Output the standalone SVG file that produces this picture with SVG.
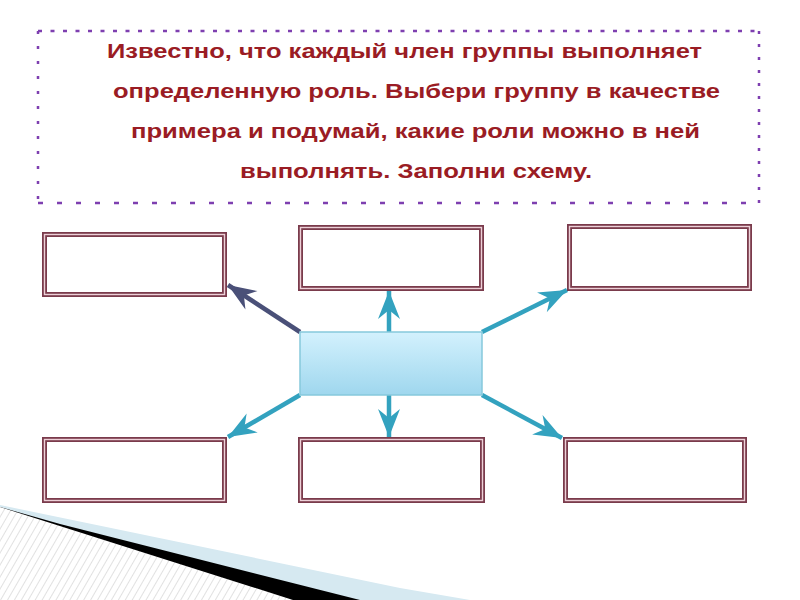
<svg xmlns="http://www.w3.org/2000/svg" width="800" height="600" viewBox="0 0 800 600">
<defs>
<style>
.t{font-family:"Liberation Sans",Arial,sans-serif;font-weight:bold;font-size:21px;fill:#9a1c24}
.box{fill:#fff;stroke:#7a3b4c;stroke-width:5}
.boxin{fill:none;stroke:#edd0d8;stroke-width:1.4}
.arr{stroke:#33a2bf;stroke-width:4.5;fill:none}
.arrd{stroke:#4a5078;stroke-width:4.5;fill:none}
.dash{stroke:#7e3fb0;stroke-width:2.5;fill:none}
</style>
<linearGradient id="cg" x1="0" y1="0" x2="0" y2="1">
<stop offset="0" stop-color="#d3f1fd"/>
<stop offset="1" stop-color="#9fd7ee"/>
</linearGradient>
<marker id="ha" viewBox="-29 -12 30 24" markerWidth="30" markerHeight="24" refX="0" refY="0" orient="auto" markerUnits="userSpaceOnUse">
<path d="M0,0 L-28,-11 L-19,0 L-28,11 Z" fill="#33a2bf"/>
</marker>
<marker id="hd" viewBox="-29 -12 30 24" markerWidth="30" markerHeight="24" refX="0" refY="0" orient="auto" markerUnits="userSpaceOnUse">
<path d="M0,0 L-28,-11 L-19,0 L-28,11 Z" fill="#4a5078"/>
</marker>
<pattern id="hatch" width="6" height="6" patternUnits="userSpaceOnUse" patternTransform="rotate(30)">
<rect width="6" height="6" fill="#fff"/>
<line x1="0" y1="0" x2="0" y2="6" stroke="#d8d8d8" stroke-width="1.5"/>
</pattern>
</defs>
<rect width="800" height="600" fill="#fff"/>

<g id="decor">
<path d="M0,505 L400,588 L470,600 L0,600 Z" fill="#d6e9f1"/>
<path d="M0,507 L60,524 L360,600 L0,600 Z" fill="#000"/>
<path d="M0,507 L293,600 L0,600 Z" fill="url(#hatch)"/>
</g>

<g id="frame">
<line class="dash" x1="38" y1="31" x2="760" y2="31" stroke-dasharray="4 8.5"/>
<line class="dash" x1="38" y1="203" x2="760" y2="203" stroke-dasharray="5 14"/>
<line class="dash" x1="38" y1="31" x2="38" y2="203" stroke-dasharray="3 12"/>
<line class="dash" x1="759" y1="31" x2="759" y2="203" stroke-dasharray="3 10"/>
</g>

<g id="task">
<text class="t" x="107" y="58" textLength="595" lengthAdjust="spacingAndGlyphs">Известно, что каждый член группы выполняет</text>
<text class="t" x="113" y="98" textLength="607" lengthAdjust="spacingAndGlyphs">определенную роль. Выбери группу в качестве</text>
<text class="t" x="131" y="138" textLength="569" lengthAdjust="spacingAndGlyphs">примера и подумай, какие роли можно в ней</text>
<text class="t" x="240" y="178" textLength="352" lengthAdjust="spacingAndGlyphs">выполнять. Заполни схему.</text>
</g>

<g id="connectors">
<line class="arrd" x1="300" y1="332" x2="228" y2="285" marker-end="url(#hd)"/>
<line class="arr" x1="389" y1="332" x2="389" y2="291" marker-end="url(#ha)"/>
<line class="arr" x1="482" y1="332" x2="567" y2="290" marker-end="url(#ha)"/>
<line class="arr" x1="300" y1="395" x2="228" y2="437" marker-end="url(#ha)"/>
<line class="arr" x1="389" y1="395" x2="389" y2="437" marker-end="url(#ha)"/>
<line class="arr" x1="482" y1="395" x2="562" y2="438" marker-end="url(#ha)"/>
</g>

<g id="center">
<rect x="300" y="332" width="182" height="63" fill="url(#cg)" stroke="#86c9dc" stroke-width="1.5"/>
</g>

<g id="box-tl"><rect class="box" x="44.5" y="234.5" width="180" height="60"/><rect class="boxin" x="44.5" y="234.5" width="180" height="60"/></g>
<g id="box-tm"><rect class="box" x="300.5" y="227.5" width="181" height="61"/><rect class="boxin" x="300.5" y="227.5" width="181" height="61"/></g>
<g id="box-tr"><rect class="box" x="569.5" y="226.5" width="180" height="62"/><rect class="boxin" x="569.5" y="226.5" width="180" height="62"/></g>
<g id="box-bl"><rect class="box" x="44.5" y="439.5" width="180" height="61"/><rect class="boxin" x="44.5" y="439.5" width="180" height="61"/></g>
<g id="box-bm"><rect class="box" x="300.5" y="439.5" width="182" height="61"/><rect class="boxin" x="300.5" y="439.5" width="182" height="61"/></g>
<g id="box-br"><rect class="box" x="565.5" y="439.5" width="179" height="61"/><rect class="boxin" x="565.5" y="439.5" width="179" height="61"/></g>
</svg>
